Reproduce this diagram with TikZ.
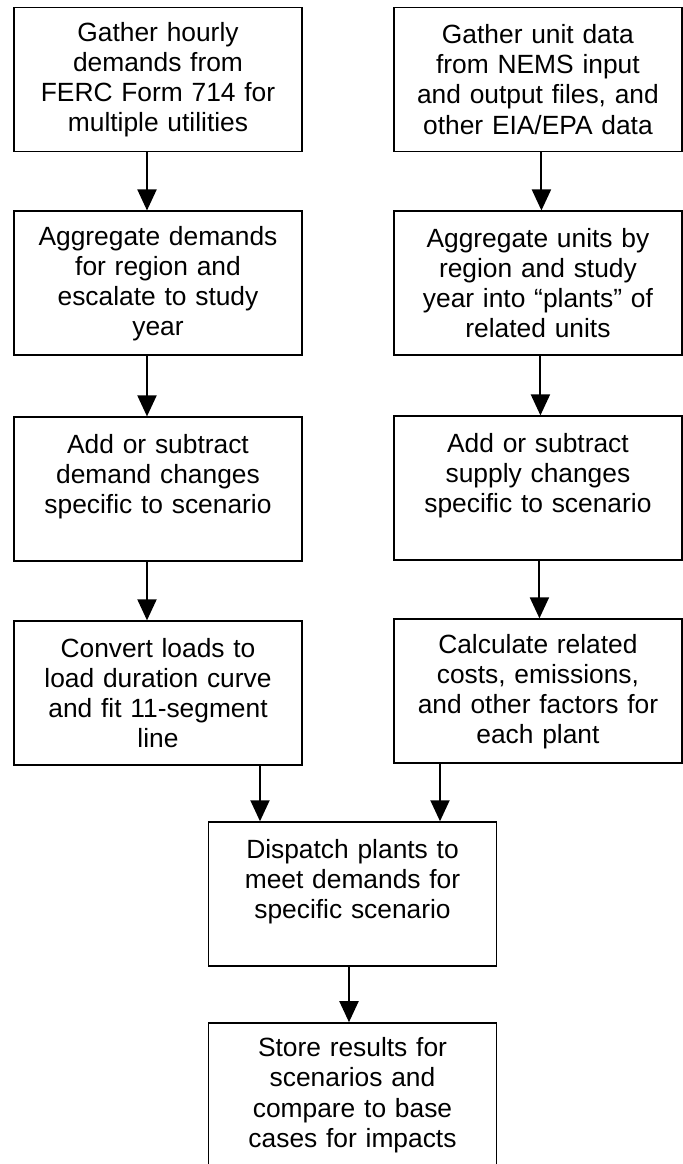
\documentclass[tikz,border=0pt]{standalone}
\usepackage{fontspec}
\setmainfont{Liberation Sans}
\usepackage{tikz}
\usetikzlibrary{arrows.meta, positioning}
\tikzstyle{process} = [rectangle, 
minimum width=5.76cm, 
minimum height=2.88cm, 
text centered, 
text width=5.5cm, 
line width=1.1pt,
font=\fontsize{15}{17.1}\selectfont,
draw=black]
\tikzstyle{arrow} = [line width=1.1pt,-{Triangle[width=3.8mm,length=4.2mm]},draw=black]

\begin{document}
\begin{tikzpicture}[align=center]

        \useasboundingbox (0,0) rectangle (13.66,-23.28);
        \clip (0,0) rectangle (13.66,-23.28);

        % Nodos
        \node (hourly) [process] at (3.16,-1.59) {Gather hourly\\demands from\\FERC Form 714 for\\multiple utilities};
        \node (unitdata) [process, right=1.8cm of hourly] {Gather unit data\\from NEMS input\\and output files, and\\other EIA/EPA data};
        \node (aggdem) [process, below=1.16cm of hourly] {Aggregate demands\\for region and\\escalate to study\\year};
        \node (aggunits) [process, below=1.16cm of unitdata] {Aggregate units by\\region and study\\year into “plants” of\\related units};
        \node (demchg) [process, below=1.2cm of aggdem] {Add or subtract\\demand changes\\specific to scenario\\~};
        \node (supchg) [process, below=1.18cm of aggunits] {Add or subtract\\supply changes\\specific to scenario\\~};
        \node (ldc) [process, below=1.16cm of demchg] {Convert loads to\\load duration curve\\and fit 11-segment\\line};
        \node (costs) [process, below=1.14cm of supchg] {Calculate related\\costs, emissions,\\and other factors for\\each plant};
        \node (dispatch) [process, below=1.1cm of ldc, xshift=3.89cm] {Dispatch plants to\\meet demands for\\specific scenario\\~};
        \node (store) [process, below=1.1cm of dispatch] {Store results for\\scenarios and\\compare to base\\cases for impacts};

        % Conexiones
        \draw [arrow] ([xshift=-0.22cm]hourly.south) -- ([xshift=-0.22cm]hourly.south |- aggdem.north);
        \draw [arrow] ([xshift=-0.22cm]aggdem.south) -- ([xshift=-0.22cm]aggdem.south |- demchg.north);
        \draw [arrow] ([xshift=-0.22cm]demchg.south) -- ([xshift=-0.22cm]demchg.south |- ldc.north);
        \draw [arrow] ([xshift=0.07cm]unitdata.south) -- ([xshift=0.07cm]unitdata.south |- aggunits.north);
        \draw [arrow] ([xshift=0.05cm]aggunits.south) -- ([xshift=0.05cm]aggunits.south |- supchg.north);
        \draw [arrow] ([xshift=0.03cm]supchg.south) -- ([xshift=0.03cm]supchg.south |- costs.north);
        \draw [arrow] ([xshift=-1.85cm]dispatch.north |- ldc.south) -- ([xshift=-1.85cm]dispatch.north);
        \draw [arrow] ([xshift=1.75cm]dispatch.north |- costs.south) -- ([xshift=1.75cm]dispatch.north);
        \draw [arrow] ([xshift=-0.07cm]dispatch.south) -- ([xshift=-0.07cm]store.north);

\end{tikzpicture}
\end{document}
